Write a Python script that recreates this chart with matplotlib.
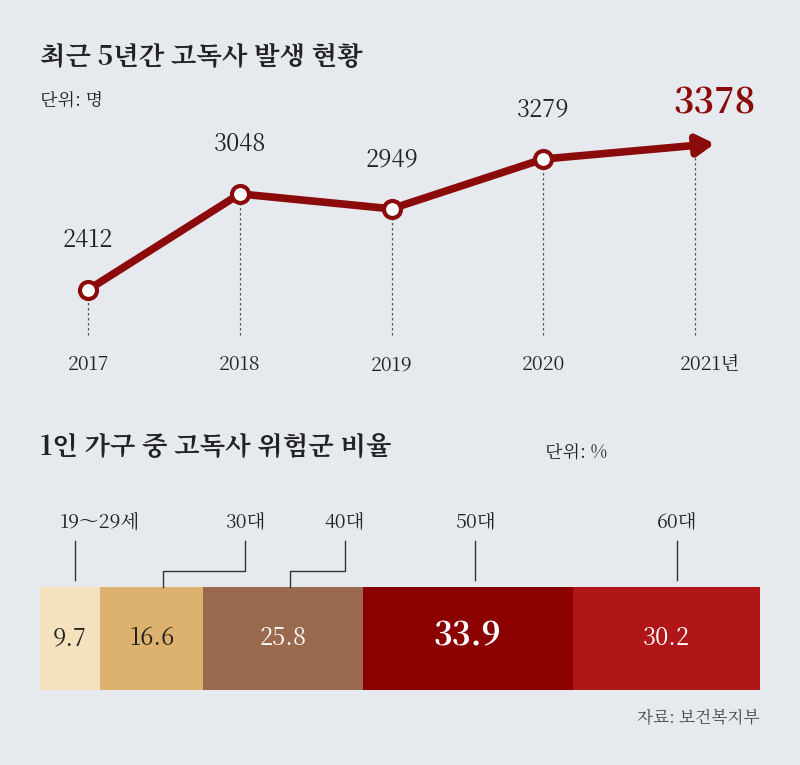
import matplotlib
matplotlib.use("Agg")
import matplotlib.pyplot as plt
from matplotlib import font_manager as fm

cjk = None
for f in fm.findSystemFonts():
    if "CJK" in f and ("Regular" in f or "CJK" in f):
        try:
            fm.fontManager.addfont(f)
            name = fm.FontProperties(fname=f).get_name()
            if "KR" in name or cjk is None:
                cjk = name
        except Exception:
            pass
plt.rcParams["font.family"] = [cjk or "Noto Sans CJK KR", "DejaVu Sans"]

years = [2017, 2018, 2019, 2020, 2021]
counts = [2412, 3048, 2949, 3279, 3378]
year_labels = ["2017", "2018", "2019", "2020", "2021년"]

groups = ["19～29세", "30대", "40대", "50대", "60대"]
shares = [9.7, 16.6, 25.8, 33.9, 30.2]
colors = ["#f3e2bd", "#ddb26e", "#9a6a4f", "#8b0000", "#b01518"]

BG = "#e6eaee"
RED = "#8b0b0b"
W, H = 800, 765
fig = plt.figure(figsize=(8, 7.65), dpi=100, facecolor=BG)

def fax(x0, y0, x1, y1):
    return fig.add_axes([x0 / W, 1 - y1 / H, (x1 - x0) / W, (y1 - y0) / H])

fig.text(40 / W, 1 - 57 / H, "최근 5년간 고독사 발생 현황", fontsize=19, fontweight="bold", va="center", color="#222")
fig.text(40 / W, 1 - 100 / H, "단위: 명", fontsize=13, va="center", color="#222")
fig.text(40 / W, 1 - 447 / H, "1인 가구 중 고독사 위험군 비율", fontsize=19, fontweight="bold", va="center", color="#222")
fig.text(545 / W, 1 - 452 / H, "단위: %", fontsize=13, va="center", color="#222")
fig.text(760 / W, 1 - 718 / H, "자료: 보건복지부", fontsize=12, va="center", ha="right", color="#444")

ax = fax(88, 125.7, 695, 352)
ax.set_xlim(2017, 2021)
ax.set_ylim(2000, 3500)
ax.axis("off")
for x, y in zip(years, counts):
    ax.plot([x, x], [2114, y], ls=(0, (2, 2)), color="#555", lw=0.9, clip_on=False, zorder=1)
ax.plot(years[:4], counts[:4], color=RED, lw=5.5, solid_capstyle="butt", zorder=2, clip_on=False)
ax.annotate("", xy=(years[4] + 0.13, counts[4] + 3), xytext=(years[3], counts[3]),
            arrowprops=dict(arrowstyle="-|>,head_length=1.0,head_width=0.6", color=RED, lw=5.5,
                            shrinkA=0, shrinkB=0), zorder=2, annotation_clip=False)
ax.scatter(years[:4], counts[:4], s=150, facecolor="white", edgecolor=RED, linewidth=3, zorder=3, clip_on=False)
for i, (x, y) in enumerate(zip(years, counts)):
    if i == 4:
        ax.text(x + 0.13, y + 265, f"{y}", fontsize=25, fontweight="bold", color=RED, ha="center", va="center", clip_on=False)
    else:
        ax.text(x, y + 330, f"{y}", fontsize=17, color="#222", ha="center", va="center", clip_on=False)
    ax.text(x + (0.1 if i == 4 else 0), 1915, year_labels[i], fontsize=14, color="#222", ha="center", va="center", clip_on=False)

bx = fax(40, 587, 760, 690)
total = sum(shares)
bx.set_xlim(0, total)
bx.set_ylim(0, 1)
bx.axis("off")
left = 0
centers = []
for v, c in zip(shares, colors):
    bx.barh(0.5, v, left=left, height=1, color=c, edgecolor="none")
    centers.append(left + v / 2)
    left += v
for i, (v, cx) in enumerate(zip(shares, centers)):
    tc = "#222" if i < 2 else "white"
    if i == 3:
        bx.text(cx, 0.52, f"{v}", fontsize=23, fontweight="bold", color=tc, ha="center", va="center")
    else:
        bx.text(cx, 0.5, f"{v}", fontsize=17, color=tc, ha="center", va="center")

px = total / 720.0
def X(p):
    return (p - 40) * px
lk = dict(color="#333", lw=1, clip_on=False)
bx.plot([X(75)] * 2, [1.07, 1.45], **lk)
bx.text(X(100), 1.63, groups[0], fontsize=14, ha="center", va="center", color="#222")
bx.plot([X(245), X(245), X(163), X(163)], [1.45, 1.16, 1.16, 1.0], **lk)
bx.text(X(245), 1.63, groups[1], fontsize=14, ha="center", va="center", color="#222")
bx.plot([X(345), X(345), X(290), X(290)], [1.45, 1.16, 1.16, 1.0], **lk)
bx.text(X(345), 1.63, groups[2], fontsize=14, ha="center", va="center", color="#222")
for p, g in [(475, groups[3]), (677, groups[4])]:
    bx.plot([X(p)] * 2, [1.07, 1.45], **lk)
    bx.text(X(p), 1.63, g, fontsize=14, ha="center", va="center", color="#222")

fig.savefig("out.png", dpi=100, facecolor=BG)
